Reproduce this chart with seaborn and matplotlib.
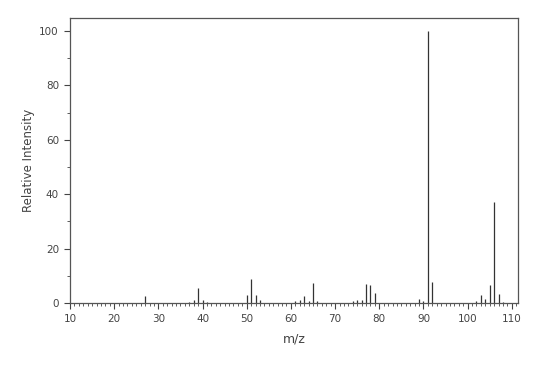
import matplotlib
matplotlib.use("Agg")
import matplotlib.pyplot as plt
from matplotlib.ticker import MultipleLocator
import seaborn as sns
import pandas as pd

mz = [27, 37, 38, 39, 40, 41, 50, 51, 52, 53, 61, 62, 63, 64, 65, 66,
      74, 75, 76, 77, 78, 79, 89, 90, 91, 92, 102, 103, 104, 105, 106, 107, 108]
intensity = [2.6, 0.5, 1.0, 5.6, 1.0, 0.5, 3.0, 8.7, 3.0, 1.0, 0.6, 1.0, 2.7, 0.9, 7.5, 0.6,
             0.8, 1.0, 1.0, 7.0, 6.5, 3.6, 1.4, 0.8, 100.0, 7.8, 0.8, 3.0, 1.5, 6.6, 37.0, 3.5, 0.4]

df = pd.DataFrame({"mz": mz, "intensity": intensity})

sns.set_style("ticks")
plt.rcParams['font.family'] = ['DejaVu Sans']

fig = plt.figure(figsize=(5.6, 3.66), dpi=100)
ax = fig.add_axes([0.125, 0.172, 0.8, 0.779])

ax.vlines(df["mz"], 0, df["intensity"], color="#333333", linewidth=0.9)

ax.set_xlim(10, 111.4)
ax.set_ylim(0, 104.8)
ax.xaxis.set_major_locator(MultipleLocator(10))
ax.xaxis.set_minor_locator(MultipleLocator(1))
ax.yaxis.set_major_locator(MultipleLocator(20))
ax.yaxis.set_minor_locator(MultipleLocator(10))
ax.tick_params(which="major", length=4.5, width=0.8, color="#444444",
               labelsize=7.5, labelcolor="#444444", direction="out")
ax.tick_params(which="minor", length=2.5, width=0.6, color="#444444", direction="out")

for s in ax.spines.values():
    s.set_visible(True)
    s.set_color("#555555")
    s.set_linewidth(0.9)

ax.set_xlabel("m/z", fontsize=9, color="#444444", labelpad=6)
ax.set_ylabel("Relative Intensity", fontsize=8.5, color="#444444", labelpad=3)

fig.savefig("out.png", dpi=100)
